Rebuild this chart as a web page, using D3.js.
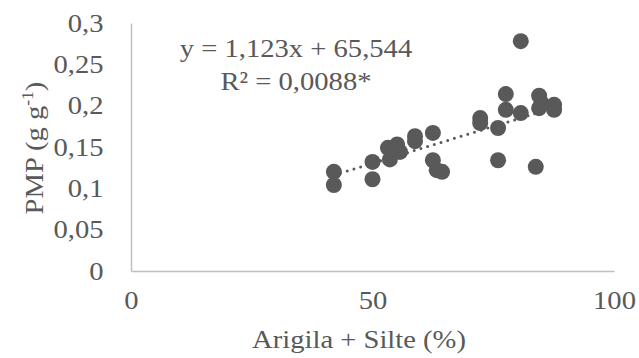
<!DOCTYPE html>
<html>
<head>
<meta charset="utf-8">
<script src="https://cdn.jsdelivr.net/npm/d3@7"></script>
<style>
  body { margin: 0; background: #fff; }
  text { font-family: "Liberation Serif", "Times New Roman", serif; fill: #595959; }
</style>
</head>
<body>
<svg id="chart"></svg>
<script>
//------------------------------------------------------------
// Data
const argSilte = [42, 42, 50, 50, 53.2, 53.6, 55.1, 55.7, 58.8, 58.8, 62.5, 62.5, 63.3, 64.4,
                  72.3, 72.3, 76, 76, 77.6, 77.6, 80.7, 80.7, 83.8, 84.5, 84.5, 85, 87.6, 87.6];
const pmp      = [0.12, 0.104, 0.132, 0.111, 0.149, 0.135, 0.153, 0.144, 0.163, 0.157, 0.167, 0.134, 0.122, 0.12,
                  0.185, 0.179, 0.173, 0.134, 0.214, 0.195, 0.278, 0.191, 0.126, 0.212, 0.197, 0.203, 0.201, 0.195];

const trendX = [42, 88];
const trendY = [0.116, 0.198];

const xTicks = [0, 50, 100];
const yTicks = [0, 0.05, 0.1, 0.15, 0.2, 0.25, 0.3];

const eqText = "y = 1,123x + 65,544";
const r2Text = "R² = 0,0088*";

//------------------------------------------------------------
// Chart setup
const W = 639, H = 358;
const margin = { top: 23, right: 25, bottom: 87, left: 131 };
const width = W - margin.left - margin.right;
const height = H - margin.top - margin.bottom;
const FS = "26px";
const SX = 1.1; // text in the source is a bit wider than Times

const svg = d3.select("#chart").attr("width", W).attr("height", H);
const g = svg.append("g").attr("transform", `translate(${margin.left},${margin.top})`);

const x = d3.scaleLinear().domain([0, 100]).range([0, width]);
const y = d3.scaleLinear().domain([0, 0.3]).range([height, 0]);
const fmt = d => String(d).replace(".", ",");

// Axes
const xAxis = g.append("g")
  .attr("transform", `translate(0,${height})`)
  .call(d3.axisBottom(x).tickValues(xTicks).tickSize(0).tickPadding(20).tickFormat(fmt));
const yAxis = g.append("g")
  .call(d3.axisLeft(y).tickValues(yTicks).tickSize(0).tickPadding(25).tickFormat(fmt));

[xAxis, yAxis].forEach(a => {
  a.select(".domain").attr("stroke", "#bfbfbf").attr("stroke-width", 1.5);
  a.selectAll("text")
    .style("font-size", FS)
    .attr("fill", "#595959")
    .attr("transform", `scale(${SX},1)`);
});

// plain text helper
function label(px, py, str, rot = 0) {
  return svg.append("text")
    .attr("transform", `translate(${px},${py}) rotate(${rot}) scale(${SX},1)`)
    .attr("text-anchor", "middle")
    .style("font-size", FS)
    .text(str);
}

// Labels
label(359, 348, "Arigila + Silte (%)");

const yl = label(43, 148, null, -90);
yl.append("tspan").text("PMP (g g");
yl.append("tspan").attr("dy", -10).style("font-size", "16px").text("-1");
yl.append("tspan").attr("dy", 10).text(")");

//------------------------------------------------------------
// Points
g.selectAll("circle")
  .data(argSilte.map((v, i) => ({ x: v, y: pmp[i] })))
  .join("circle")
  .attr("cx", d => x(d.x))
  .attr("cy", d => y(d.y))
  .attr("r", 8)
  .attr("fill", "#595959");

// Trend line (dotted)
g.append("path")
  .datum(trendX.map((v, i) => [v, trendY[i]]))
  .attr("d", d3.line().x(d => x(d[0])).y(d => y(d[1])))
  .attr("fill", "none")
  .attr("stroke", "#595959")
  .attr("stroke-width", 3)
  .attr("stroke-linecap", "round")
  .attr("stroke-dasharray", "0 7");

// Equation
label(296, 57, eqText);
label(296, 90, r2Text);
</script>
</body>
</html>
